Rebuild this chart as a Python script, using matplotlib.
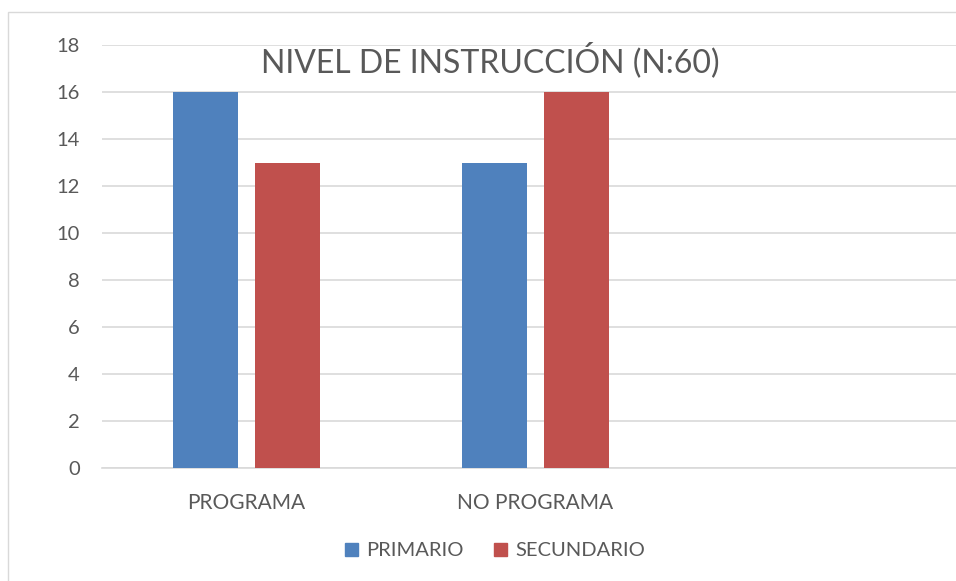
import matplotlib
matplotlib.use("Agg")
import matplotlib.pyplot as plt
from matplotlib.patches import Rectangle, Patch
import numpy as np

categories = ["PROGRAMA", "NO PROGRAMA", ""]
series_names = ["PRIMARIO", "SECUNDARIO"]
primario = [16, 13, 0]
secundario = [13, 16, 0]
yticks = [0, 2, 4, 6, 8, 10, 12, 14, 16, 18]
title = "NIVEL DE INSTRUCCIÓN (N:60)"

plt.rcParams['font.family'] = ['Lato', 'DejaVu Sans']
W, H = 956, 581
fig = plt.figure(figsize=(W/100, H/100), dpi=100)

# chart border
fig.patches.append(Rectangle((8/W, -0.1), 1.2, 1 - 12/H + 0.1, transform=fig.transFigure,
                             fill=False, edgecolor='#d9d9d9', linewidth=1.0))

left, right, bottom, top = 102/W, 969/W, 1 - 468/H, 1 - 45/H
ax = fig.add_axes([left, bottom, right - left, top - bottom])

x = np.arange(len(categories))
bw = 0.225
off = 0.1425
blue, red = '#4F81BD', '#C0504D'
ax.bar(x[:2] - off, primario[:2], width=bw, color=blue, label=series_names[0], zorder=3)
ax.bar(x[:2] + off, secundario[:2], width=bw, color=red, label=series_names[1], zorder=3)

ax.set_xlim(-0.5, 2.5)
ax.set_ylim(0, 18)
ax.set_yticks(yticks)
ax.set_xticks(x)
ax.set_xticklabels(categories, fontsize=15)
ax.yaxis.grid(True, color='#d9d9d9', linewidth=1.2, zorder=0)
ax.set_axisbelow(True)
for s in ['top', 'right', 'left']:
    ax.spines[s].set_visible(False)
ax.spines['bottom'].set_color('#d9d9d9')
ax.spines['bottom'].set_linewidth(1.2)
ax.tick_params(axis='both', length=0, labelcolor='#595959')
ax.tick_params(axis='y', pad=16, labelsize=14.5)
ax.tick_params(axis='x', pad=18)

fig.text(490/W, 1 - 60/H, title, ha='center', va='center', fontsize=23, color='#595959')

handles = [Patch(color=blue), Patch(color=red)]
fig.legend(handles, series_names, loc='center', bbox_to_anchor=(495/W, 1 - 551/H),
           ncol=2, frameon=False, fontsize=14.5, handlelength=0.65, handleheight=0.65,
           handletextpad=0.4, columnspacing=1.5, labelcolor='#595959')

fig.savefig("out.png", dpi=100)
